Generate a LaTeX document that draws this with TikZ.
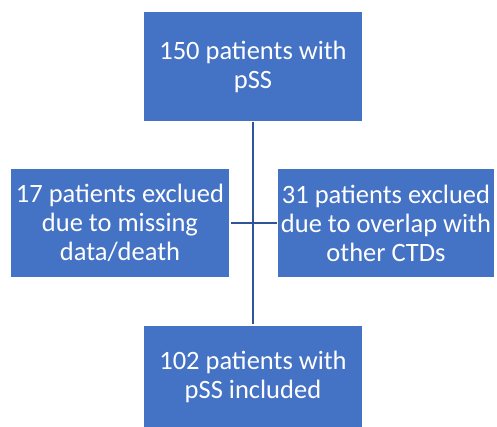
\documentclass[tikz,border=0pt]{standalone}
\usepackage{fontspec}
\setmainfont{Carlito}
\definecolor{boxblue}{HTML}{4472C4}
\definecolor{lineblue}{HTML}{2F5597}
\begin{document}
\begin{tikzpicture}[x=1pt,y=-1pt,
  flowbox/.style={draw=none, fill=boxblue, text=white, inner sep=0pt, align=center,
    font=\fontsize{26.5}{29}\selectfont},
  conn/.style={draw=lineblue, line width=1.3pt},
  connthick/.style={draw=lineblue, line width=2.6pt}]
\useasboundingbox (0,0) rectangle (497,427);
\node[flowbox, minimum width=218pt, minimum height=109pt] (top) at (253,66.5) {150 patients with\\pSS};
\node[flowbox, minimum width=218pt, minimum height=108pt] (left) at (120,223) {17 patients exclued\\due to missing\\data/death};
\node[flowbox, minimum width=216pt, minimum height=108pt] (right) at (386,223) {31 patients exclued\\due to overlap with\\other CTDs};
\node[flowbox, minimum width=218pt, minimum height=101pt] (bottom) at (253,376.5) {102 patients with\\pSS included};
\coordinate (junc) at (253,223);
\draw[connthick] ([yshift=-1pt]top.south) -- (junc);
\draw[conn] (junc) -- ([yshift=2pt]bottom.north);
\draw[conn] ([xshift=2pt]left.east) -- ([xshift=-0.5pt]right.west);
\end{tikzpicture}
\end{document}
